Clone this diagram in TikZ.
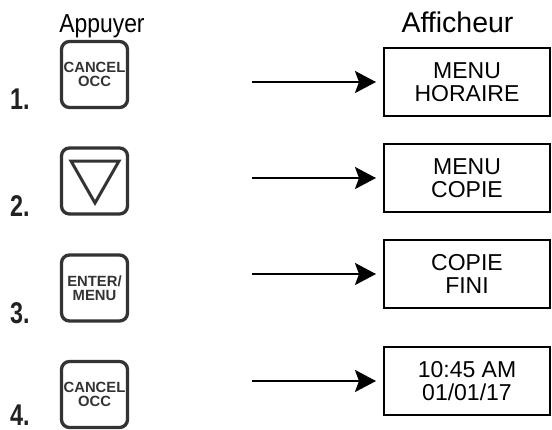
\documentclass[tikz,border=0pt]{standalone}
\usepackage{fontspec}
\setmainfont{Liberation Sans}
\newfontfamily\numfont[FakeStretch=0.78]{Liberation Sans}
\newfontfamily\headAfont[FakeStretch=0.88]{Liberation Sans}
\usetikzlibrary{arrows.meta}
\definecolor{keygray}{HTML}{333333}
\definecolor{numgray}{HTML}{222222}
\tikzset{
  keybox/.style={draw=keygray, line width=3.3pt, rounded corners=8pt,
    minimum width=66pt, minimum height=66pt, inner sep=0pt,
    text=keygray, font=\bfseries\fontsize{14.8}{14.5}\selectfont, align=center},
  dispbox/.style={draw=black, line width=2pt, minimum width=166pt,
    minimum height=68pt, inner sep=0pt, align=center,
    font=\fontsize{23}{23}\selectfont},
  stepnum/.style={anchor=base west, inner sep=0pt, text=numgray,
    font=\numfont\bfseries\fontsize{30}{30}\selectfont},
  flow/.style={line width=2.2pt, shorten >=7pt,
    -{Stealth[length=21pt,width=22pt,inset=4pt]}},
}
\begin{document}
\begin{tikzpicture}[x=1pt,y=-1pt]
\useasboundingbox (0,0) rectangle (552,429);
% headers
\node[anchor=base, inner sep=0pt, font=\headAfont\fontsize{26}{26}\selectfont] (happ) at (102,32) {Appuyer};
\node[anchor=base, inner sep=0pt, font=\fontsize{28.5}{28.5}\selectfont] (haff) at (457.5,32) {Afficheur};
% step numbers
\node[stepnum] (n1) at (10,109) {1.};
\node[stepnum] (n2) at (10,216) {2.};
\node[stepnum] (n3) at (10,323) {3.};
\node[stepnum] (n4) at (10,425.5) {4.};
% keys
\node[keybox] (k1) at (94.5,74.5) {CANCEL\\OCC};
\node[keybox] (k2) at (94.5,181) {};
\node[keybox] (k3) at (94.5,288) {ENTER/\\MENU};
\node[keybox] (k4) at (94.5,394.5) {CANCEL\\OCC};
\draw[draw=keygray, line width=3pt] (71,161) -- (119,161) -- (95,203) -- cycle;
% displays
\node[dispbox] (d1) at (467,82) {MENU\\HORAIRE};
\node[dispbox] (d2) at (467,178) {MENU\\COPIE};
\node[dispbox] (d3) at (467,274) {COPIE\\FINI};
\node[dispbox] (d4) at (467,381) {10:45 AM\\01/01/17};
% arrow starts
\coordinate (s1) at (252,82);
\coordinate (s2) at (252,178);
\coordinate (s3) at (252,274);
\coordinate (s4) at (252,381);
\draw[flow] (s1) -- (d1);
\draw[flow] (s2) -- (d2);
\draw[flow] (s3) -- (d3);
\draw[flow] (s4) -- (d4);
\end{tikzpicture}
\end{document}
